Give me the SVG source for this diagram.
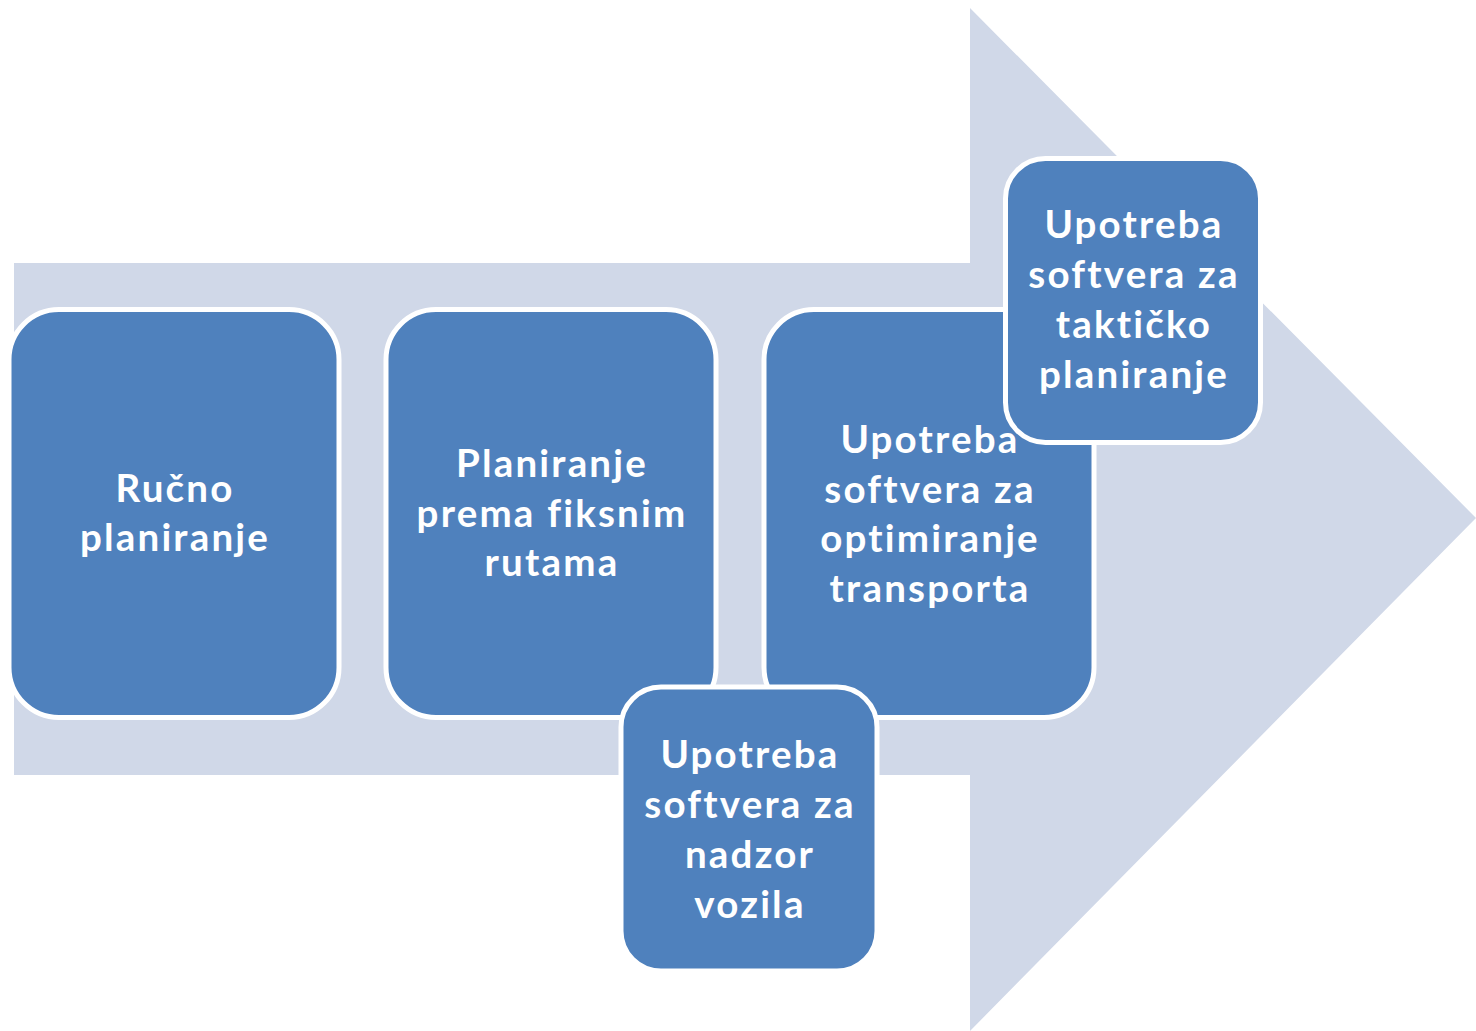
<svg xmlns="http://www.w3.org/2000/svg" width="1476" height="1031" viewBox="0 0 1476 1031">
<style>
.box{fill:#4f81bd;stroke:#ffffff;stroke-width:5}
.t{font-family:Lato,"Open Sans","Liberation Sans",sans-serif;font-weight:700;font-size:38.5px;letter-spacing:2.2px;fill:#ffffff;text-anchor:middle}
</style>
<rect width="1476" height="1031" fill="#ffffff"/>
<polygon id="arrow" points="14,263 970,263 970,8 1476,518 970,1031 970,775 14,775" fill="#d0d8e8"/>
<g id="n1">
<rect class="box" x="9" y="309.5" width="330" height="408" rx="50"/>
<text class="t" x="175" y="502">Ručno</text>
<text class="t" x="175" y="551">planiranje</text>
</g>
<g id="n2">
<rect class="box" x="386" y="309.5" width="330" height="408" rx="50"/>
<text class="t" x="552" y="477">Planiranje</text>
<text class="t" x="552" y="526.5">prema fiksnim</text>
<text class="t" x="552" y="576">rutama</text>
</g>
<g id="n3">
<rect class="box" x="764" y="309.5" width="330" height="408" rx="50"/>
<text class="t" x="930" y="453">Upotreba</text>
<text class="t" x="930" y="502.5">softvera za</text>
<text class="t" x="930" y="552">optimiranje</text>
<text class="t" x="930" y="601.5">transporta</text>
</g>
<g id="n4">
<rect class="box" x="621" y="687" width="256" height="284" rx="40"/>
<text class="t" x="750" y="768">Upotreba</text>
<text class="t" x="750" y="818">softvera za</text>
<text class="t" x="750" y="868">nadzor</text>
<text class="t" x="750" y="918">vozila</text>
</g>
<g id="n5">
<rect class="box" x="1005.5" y="158.5" width="255" height="284" rx="40"/>
<text class="t" x="1134" y="238">Upotreba</text>
<text class="t" x="1134" y="288">softvera za</text>
<text class="t" x="1134" y="338">taktičko</text>
<text class="t" x="1134" y="388">planiranje</text>
</g>
<g id="connectors"></g>
</svg>
